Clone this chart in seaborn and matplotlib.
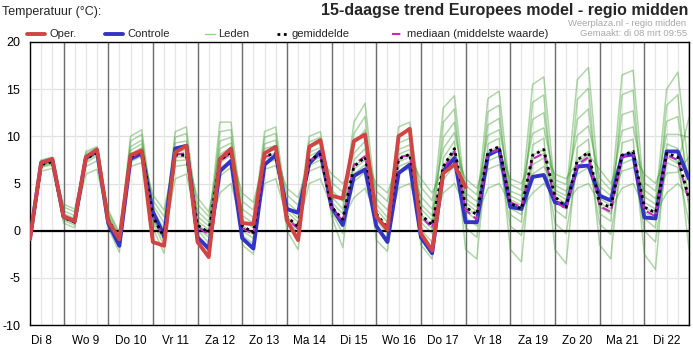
import numpy as np
import pandas as pd
import seaborn as sns
import matplotlib
matplotlib.use("Agg")
import matplotlib.pyplot as plt
from matplotlib.lines import Line2D

# ---------------- data (6-hourly steps, t = 0 .. 59) ----------------
dag_labels = ['Di 8', 'Wo 9', 'Do 10', 'Vr 11', 'Za 12', 'Zo 13', 'Ma 14', 'Di 15',
              'Wo 16', 'Do 17', 'Vr 18', 'Za 19', 'Zo 20', 'Ma 21', 'Di 22']

oper = [-0.9, 7.2, 7.6, 1.5, 1.0, 7.8, 8.6, 1.0, -0.9, 8.0, 8.5, -1.2, -1.6, 8.3, 9.0,
        -1.2, -2.8, 7.6, 8.7, 0.8, 0.7, 8.2, 8.9, 1.1, -1.0, 8.9, 9.6, 3.7, 3.4, 9.5,
        10.2, 1.5, 0.1, 10.0, 10.8, -0.3, -2.1, 6.1, 7.0, 4.6]

controle = [-0.8, 7.2, 7.5, 1.5, 1.0, 7.7, 8.4, 0.8, -1.6, 7.6, 8.2, 2.0, -0.5, 8.7, 9.0,
            -0.7, -1.9, 6.3, 7.4, -0.8, -1.9, 7.0, 8.0, 2.3, 1.9, 7.1, 8.4, 2.5, 0.6, 5.8,
            6.5, 0.5, -1.2, 6.1, 7.0, -0.7, -2.4, 6.3, 7.7, 0.9, 0.9, 8.0, 8.6, 2.5, 2.3,
            5.7, 5.9, 3.0, 2.7, 6.8, 6.9, 3.7, 3.2, 7.9, 8.1, 1.4, 1.3, 8.4, 8.4, 5.5]

gemiddelde = [-0.9, 7.0, 7.3, 1.4, 0.9, 7.6, 8.3, 1.2, -1.0, 7.8, 8.5, 1.5, -0.7, 8.0, 8.0,
              0.6, -0.2, 7.5, 8.3, 0.5, -0.2, 7.9, 8.2, 1.5, 0.4, 7.5, 8.1, 2.5, 1.2, 6.8,
              7.8, 1.8, 0.3, 7.6, 8.1, 1.7, 0.6, 6.8, 8.7, 2.5, 1.7, 8.4, 8.9, 2.9, 2.3,
              8.0, 8.6, 3.6, 2.5, 7.5, 8.3, 2.9, 2.5, 8.0, 8.4, 2.5, 1.9, 8.2, 7.8, 3.4]

mediaan = [-0.9, 7.1, 7.4, 1.4, 0.9, 7.7, 8.4, 1.1, -1.0, 7.7, 8.4, 1.4, -0.8, 8.1, 8.2,
           0.4, -0.4, 7.4, 8.2, 0.3, -0.4, 7.8, 8.2, 1.3, 0.2, 7.4, 8.0, 2.3, 1.0, 7.0,
           7.9, 1.6, 0.1, 7.8, 8.0, 1.5, 0.3, 6.5, 8.4, 2.2, 1.2, 8.2, 8.6, 3.0, 2.5,
           7.6, 8.2, 3.3, 2.2, 7.0, 7.8, 2.6, 2.0, 7.8, 8.2, 2.2, 1.5, 8.0, 7.5, 3.2]

# ensemble members ("Leden"): per time step the estimated spread of member values (low -> high)
leden_spreiding = [
    [-1.2, -1.0, -1.0, -0.9, -0.9, -0.9, -0.8, -0.8, -0.7, -0.6],
    [6.3, 6.7, 6.8, 6.9, 7.0, 7.1, 7.2, 7.3, 7.4, 7.5],
    [6.6, 7.0, 7.1, 7.2, 7.3, 7.4, 7.5, 7.6, 7.7, 7.8],
    [0.8, 1.1, 1.3, 1.3, 1.4, 1.6, 1.8, 2.1, 2.5, 2.8],
    [0.3, 0.6, 0.8, 0.8, 0.9, 1.1, 1.3, 1.6, 2.0, 2.3],
    [6.0, 6.8, 7.2, 7.4, 7.6, 7.7, 7.8, 8.0, 8.2, 8.4],
    [6.5, 7.4, 7.9, 8.1, 8.3, 8.4, 8.5, 8.6, 8.8, 8.9],
    [0.3, 0.8, 1.0, 1.1, 1.2, 1.4, 1.5, 1.7, 2.0, 2.2],
    [-2.3, -1.7, -1.3, -1.1, -1.0, -0.9, -0.8, -0.6, -0.4, -0.2],
    [6.8, 7.3, 7.6, 7.7, 7.8, 8.1, 8.5, 8.9, 9.5, 10.0],
    [7.2, 7.9, 8.2, 8.4, 8.5, 8.8, 9.2, 9.6, 10.2, 10.7],
    [0.3, 0.9, 1.2, 1.4, 1.5, 1.9, 2.2, 2.7, 3.2, 3.8],
    [-2.4, -1.6, -1.1, -0.9, -0.7, -0.3, 0.2, 0.8, 1.5, 2.2],
    [5.5, 6.8, 7.4, 7.8, 8.0, 8.4, 8.8, 9.3, 9.9, 10.5],
    [6.0, 7.0, 7.5, 7.8, 8.0, 8.5, 8.9, 9.5, 10.3, 11.0],
    [-0.5, 0.1, 0.3, 0.5, 0.6, 1.0, 1.5, 2.1, 2.8, 3.5],
    [-2.3, -1.3, -0.7, -0.4, -0.2, 0.1, 0.5, 0.9, 1.5, 2.0],
    [4.0, 5.8, 6.6, 7.2, 7.5, 8.1, 8.7, 9.5, 10.5, 11.5],
    [5.0, 6.7, 7.5, 8.0, 8.3, 8.8, 9.3, 9.9, 10.7, 11.5],
    [-1.5, -0.5, 0.0, 0.3, 0.5, 1.0, 1.6, 2.3, 3.1, 4.0],
    [-2.5, -1.4, -0.8, -0.4, -0.2, 0.3, 0.8, 1.4, 2.2, 3.0],
    [5.0, 6.5, 7.2, 7.6, 7.9, 8.3, 8.7, 9.2, 9.9, 10.5],
    [5.5, 6.9, 7.5, 7.9, 8.2, 8.6, 9.0, 9.6, 10.3, 11.0],
    [0.0, 0.8, 1.1, 1.4, 1.5, 2.0, 2.4, 3.0, 3.8, 4.5],
    [-2.0, -0.8, -0.2, 0.2, 0.4, 0.9, 1.3, 2.0, 2.7, 3.5],
    [5.0, 6.3, 6.9, 7.3, 7.5, 7.9, 8.3, 8.8, 9.4, 10.0],
    [5.5, 6.8, 7.5, 7.8, 8.1, 8.5, 8.8, 9.3, 9.9, 10.5],
    [1.5, 2.0, 2.3, 2.4, 2.5, 3.0, 3.6, 4.3, 5.1, 6.0],
    [-1.8, -0.3, 0.5, 0.9, 1.2, 1.8, 2.3, 3.1, 4.1, 5.0],
    [3.5, 5.2, 6.0, 6.5, 6.8, 7.5, 8.2, 9.2, 10.3, 11.5],
    [4.5, 6.2, 7.0, 7.5, 7.8, 8.7, 9.5, 10.7, 12.1, 13.5],
    [-1.0, 0.4, 1.1, 1.5, 1.8, 2.3, 2.8, 3.4, 4.2, 5.0],
    [-2.2, -1.0, -0.3, 0.1, 0.3, 0.9, 1.4, 2.2, 3.1, 4.0],
    [4.5, 6.1, 6.8, 7.3, 7.6, 8.1, 8.6, 9.3, 10.2, 11.0],
    [5.0, 6.6, 7.3, 7.8, 8.1, 8.6, 9.1, 9.8, 10.7, 11.5],
    [-1.5, 0.1, 0.9, 1.4, 1.7, 2.3, 2.8, 3.6, 4.6, 5.5],
    [-3.0, -1.2, -0.3, 0.2, 0.6, 1.1, 1.6, 2.3, 3.2, 4.0],
    [4.0, 5.4, 6.1, 6.5, 6.8, 7.7, 8.7, 9.9, 11.5, 13.0],
    [5.0, 6.9, 7.8, 8.3, 8.7, 9.5, 10.4, 11.5, 12.9, 14.3],
    [-2.0, 0.3, 1.4, 2.1, 2.5, 3.0, 3.4, 4.0, 4.8, 5.5],
    [-3.0, -0.7, 0.5, 1.1, 1.6, 2.0, 2.5, 3.1, 3.8, 4.5],
    [4.5, 6.5, 7.4, 8.0, 8.4, 9.2, 10.1, 11.2, 12.6, 14.0],
    [5.0, 7.0, 7.9, 8.5, 8.9, 9.8, 10.7, 11.9, 13.3, 14.8],
    [-2.0, 0.5, 1.7, 2.4, 2.9, 3.3, 3.7, 4.2, 4.9, 5.5],
    [-3.3, -0.5, 0.9, 1.7, 2.3, 2.7, 3.1, 3.7, 4.3, 5.0],
    [4.0, 6.0, 7.0, 7.6, 8.0, 9.1, 10.3, 11.8, 13.6, 15.5],
    [5.0, 6.8, 7.7, 8.2, 8.6, 9.8, 10.9, 12.5, 14.4, 16.3],
    [-2.0, 0.8, 2.2, 3.0, 3.6, 4.0, 4.3, 4.8, 5.4, 6.0],
    [-3.5, -0.3, 1.3, 2.3, 2.9, 3.3, 3.7, 4.2, 4.9, 5.5],
    [4.5, 6.0, 6.8, 7.2, 7.5, 8.8, 10.1, 11.8, 13.9, 16.0],
    [5.0, 6.7, 7.6, 8.1, 8.4, 9.7, 11.1, 12.9, 15.1, 17.3],
    [-1.5, 0.7, 1.8, 2.5, 2.9, 3.4, 4.0, 4.7, 5.6, 6.5],
    [-3.0, -0.4, 1.0, 1.8, 2.3, 2.7, 3.1, 3.7, 4.3, 5.0],
    [4.5, 6.3, 7.1, 7.7, 8.0, 9.3, 10.6, 12.3, 14.4, 16.5],
    [5.0, 6.7, 7.6, 8.1, 8.4, 9.7, 11.0, 12.7, 14.9, 17.0],
    [-2.5, 0.0, 1.3, 2.0, 2.5, 3.0, 3.6, 4.3, 5.1, 6.0],
    [-4.1, -1.2, 0.3, 1.2, 1.8, 2.3, 2.8, 3.4, 4.2, 5.0],
    [4.0, 6.1, 7.2, 7.8, 8.2, 9.2, 10.2, 11.6, 13.3, 15.0],
    [5.0, 6.2, 6.7, 7.1, 7.3, 8.7, 10.2, 12.1, 14.4, 16.8],
    [-2.0, 0.8, 2.2, 3.0, 3.6, 4.9, 6.1, 7.8, 9.9, 12.0],
]
# which spread rank each member takes during the cold half of every day (lines cross)
rang_koud = [4, 7, 1, 9, 3, 0, 8, 5, 2, 6]

# ---------------- build long tables ----------------
n_t = len(leden_spreiding)
rows = []
for t, waarden in enumerate(leden_spreiding):
    koud = (t % 4) in (0, 3)
    for lid in range(len(waarden)):
        r = rang_koud[lid] if koud else lid
        rows.append({'t': t, 'lid': lid, 'temp': waarden[r]})
df_leden = pd.DataFrame(rows)

# ---------------- figure ----------------
sns.set_theme(style="white")
plt.rcParams['font.family'] = ['Liberation Sans', 'DejaVu Sans']

W, H = 693, 350
fig = plt.figure(figsize=(W / 100, H / 100), dpi=100)
fig.patch.set_facecolor('white')
ax = fig.add_axes([30 / W, 25 / H, 659 / W, 283 / H])
ax.set_facecolor('white')

ax.set_xlim(0, n_t - 1)
ax.set_ylim(-10, 20)

# grid
for y in range(-10, 21, 5):
    ax.axhline(y, color='#e2e2e2', lw=0.9, zorder=0)
for t in range(n_t):
    ax.axvline(t, color='#e6e6e6', lw=0.9, zorder=0)
for t in range(3, n_t, 4):
    ax.axvline(t, color='#6e6e6e', lw=1.0, zorder=0.5)

# members
sns.lineplot(data=df_leden, x='t', y='temp', units='lid', estimator=None,
             color='#3f9f30', lw=1.1, alpha=0.42, ax=ax, legend=False, zorder=1)

ax.axhline(0, color='black', lw=1.6, zorder=2)

sns.lineplot(x=list(range(len(controle))), y=controle, color='#3434c4', lw=2.8,
             ax=ax, zorder=3)
sns.lineplot(x=list(range(len(mediaan))), y=mediaan, color='#c22ac2', lw=1.5,
             dashes=False, linestyle=(0, (4, 2)), ax=ax, zorder=4)
sns.lineplot(x=list(range(len(gemiddelde))), y=gemiddelde, color='black', lw=2.0,
             linestyle=(0, (1, 1.3)), ax=ax, zorder=5)
sns.lineplot(x=list(range(len(oper))), y=oper, color='#d04444', lw=2.8, ax=ax, zorder=6)

# axes, ticks
for s in ax.spines.values():
    s.set_color('black')
    s.set_linewidth(1.0)
ax.set_yticks(range(-10, 21, 5))
ax.set_yticklabels([str(v) for v in range(-10, 21, 5)], fontsize=9)
ax.set_xticks(range(n_t))
xlabels = [''] * n_t
for k, lab in enumerate(dag_labels):
    xlabels[1 + 4 * k] = lab
ax.set_xticklabels(xlabels, fontsize=8.5)
ax.tick_params(axis='both', direction='out', length=5, width=1, color='black',
               labelcolor='black', pad=2)
ax.set_xlabel('')
ax.set_ylabel('')
ax.grid(False)

# titles
fig.text(2 / W, 1 - 12 / H, 'Temperatuur (°C):', fontsize=9, va='center', ha='left')
fig.text(688 / W, 1 - 11 / H, '15-daagse trend Europees model - regio midden',
         fontsize=11.5, fontweight='bold', va='center', ha='right')
fig.text(686 / W, 1 - 24 / H, 'Weerplaza.nl - regio midden', fontsize=6.8,
         color='#a8a8a8', va='center', ha='right')
fig.text(687 / W, 1 - 33.5 / H, 'Gemaakt: di 08 mrt 09:55', fontsize=6.8,
         color='#a8a8a8', va='center', ha='right')

# legend row
ly = 1 - 34 / H
def leg(x0, x1, tx, label, **kw):
    fig.add_artist(Line2D([x0 / W, x1 / W], [ly, ly], transform=fig.transFigure, **kw))
    fig.text(tx / W, ly, label, fontsize=8, va='center', ha='left')

leg(27, 45, 49, 'Oper.', color='#d04444', lw=2.8)
leg(105, 123, 127, 'Controle', color='#3434c4', lw=2.8)
leg(205, 215, 218, 'Leden', color='#9ccf90', lw=1.0)
leg(277, 288, 291, 'gemiddelde', color='black', lw=2.0, linestyle=(0, (1, 1.3)))
leg(392, 404, 407, 'mediaan (middelste waarde)', color='#c22ac2', lw=1.5,
    linestyle=(0, (4, 2)))

fig.savefig('out.png', dpi=100, facecolor='white')
